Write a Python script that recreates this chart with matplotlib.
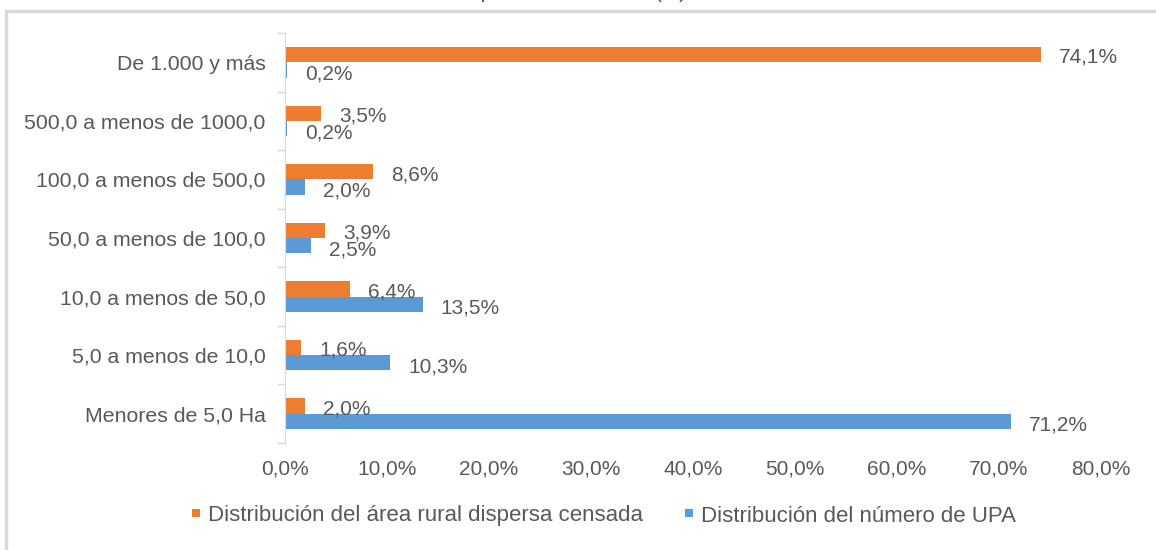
import numpy as np
import matplotlib.pyplot as plt
from matplotlib.patches import Rectangle

plt.rcParams['font.family'] = ['Liberation Sans', 'DejaVu Sans']

# datos
categorias = ["Menores de 5,0 Ha", "5,0 a menos de 10,0", "10,0 a menos de 50,0",
              "50,0 a menos de 100,0", "100,0 a menos de 500,0",
              "500,0 a menos de 1000,0", "De 1.000 y más"]
area_rural = [2.0, 1.6, 6.4, 3.9, 8.6, 3.5, 74.1]
numero_upa = [71.2, 10.3, 13.5, 2.5, 2.0, 0.2, 0.2]
xticks = [0, 10, 20, 30, 40, 50, 60, 70, 80]

serie_area = "Distribución del área rural dispersa censada"
serie_upa = "Distribución del número de UPA"

NARANJA = "#ED7D31"
AZUL = "#5B9BD5"
GRIS = "#595959"
FS = 15

fig = plt.figure(figsize=(11.56, 5.5), dpi=100)
ax = fig.add_axes([285 / 1156, 1 - 443 / 550, (1101 - 285) / 1156, (443 - 33) / 550])

y = np.arange(len(categorias))
h = 0.26
b1 = ax.barh(y + h / 2, area_rural, height=h, color=NARANJA, label=serie_area)
b2 = ax.barh(y - h / 2, numero_upa, height=h, color=AZUL, label=serie_upa)

def fmt(v):
    return f"{v:.1f}%".replace(".", ",")

for yy, v in zip(y + h / 2, area_rural):
    ax.annotate(fmt(v), (v, yy), xytext=(13, -2), textcoords="offset points",
                va="center", ha="left", fontsize=FS, color=GRIS)
for yy, v in zip(y - h / 2, numero_upa):
    ax.annotate(fmt(v), (v, yy), xytext=(13, -3), textcoords="offset points",
                va="center", ha="left", fontsize=FS, color=GRIS)

ax.set_xlim(0, 80)
ax.set_ylim(-0.5, len(categorias) - 0.5)
ax.set_xticks(xticks)
ax.set_xticklabels([fmt(t) for t in xticks], fontsize=FS, color=GRIS)
ax.set_yticks(y)
ax.set_yticklabels(categorias, fontsize=15.3, color=GRIS)
ax.set_yticks(np.arange(-0.5, len(categorias), 1), minor=True)
ax.tick_params(axis="y", which="major", length=0, pad=14)
ax.tick_params(axis="y", which="minor", length=6, color="#d9d9d9", width=1)
ax.tick_params(axis="x", length=0, pad=12)
for s in ["top", "right", "bottom"]:
    ax.spines[s].set_visible(False)
ax.spines["left"].set_color("#d9d9d9")

leg = fig.legend(handles=[b1, b2], loc="center", bbox_to_anchor=(0.5225, 1 - 516 / 550),
                 ncol=2, frameon=False, fontsize=16, handlelength=0.36, handleheight=0.18,
                 handletextpad=0.35, columnspacing=1.9, labelcolor=GRIS)

# marco exterior y titulo recortado
fig.patches.append(Rectangle((6 / 1156, -0.05), 1.2, 1.05 - 11 / 550,
                             transform=fig.transFigure, fill=False,
                             edgecolor="#d9d9d9", lw=2.5))
fig.text(686 / 1156, 1 + 2 / 550, "Distribución por tamaño de UPA (%)", ha="right",
         va="baseline", fontsize=14, color="#404040")

fig.savefig("out.png", dpi=100)
